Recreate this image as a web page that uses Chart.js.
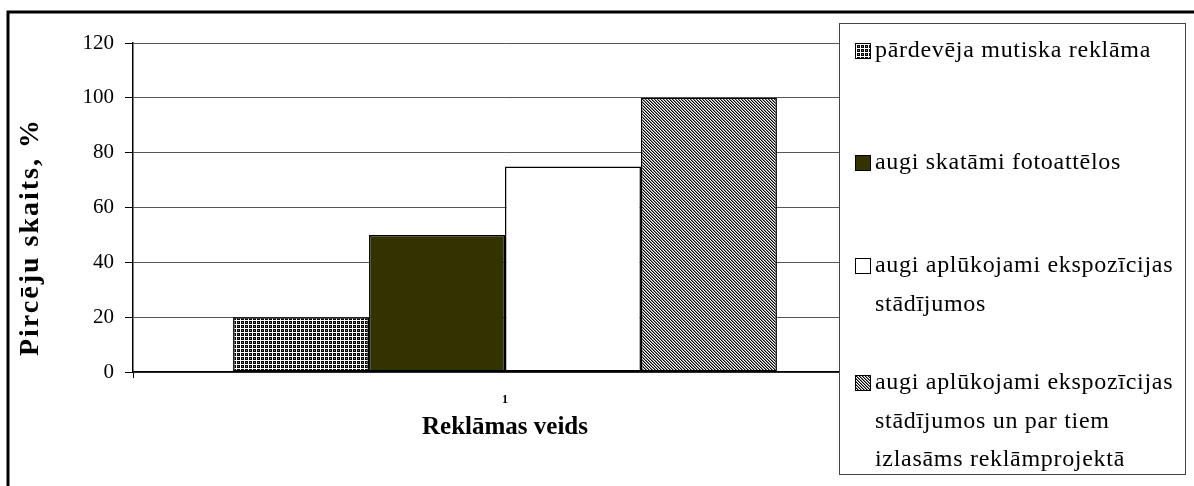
<!doctype html>
<html lang="lv">
<head>
<meta charset="utf-8">
<title>Reklāmas veids</title>
<script src="https://cdn.jsdelivr.net/npm/chart.js"></script>
<style>
  html, body { margin: 0; padding: 0; background: #fff; }
  #grafiks { display: block; }
</style>
</head>
<body>
<canvas id="grafiks" width="1194" height="486"></canvas>
<script>
// dati
var kategorijas = ['1'];
var nosaukumi = [
    ['pārdevēja mutiska reklāma'],
    ['augi skatāmi fotoattēlos'],
    ['augi aplūkojami ekspozīcijas', 'stādījumos'],
    ['augi aplūkojami ekspozīcijas', 'stādījumos un par tiem', 'izlasāms reklāmprojektā']
];
var vertibas = [20, 50, 75, 100];
var yTicks = [0, 20, 40, 60, 80, 100, 120];
var yNosaukums = 'Pircēju skaits, %';
var xNosaukums = 'Reklāmas veids';

var fonts = '"Liberation Serif", "Times New Roman", serif';

// rakstu (pattern) izveide
function rakstsRezgis() {
    var c = document.createElement('canvas');
    c.width = 4; c.height = 4;
    var g = c.getContext('2d');
    g.fillStyle = '#000';
    g.fillRect(0, 0, 4, 4);
    g.fillStyle = '#777';
    g.fillRect(2, 2, 1, 1);
    g.fillStyle = '#fff';
    g.fillRect(0, 0, 4, 1);
    g.fillRect(0, 0, 1, 4);
    return g.createPattern(c, 'repeat');
}

function rakstsSvitras() {
    var c = document.createElement('canvas');
    c.width = 3; c.height = 3;
    var g = c.getContext('2d');
    g.fillStyle = '#fff';
    g.fillRect(0, 0, 3, 3);
    for (var y = 0; y < 3; y++) {
        for (var x = 0; x < 3; x++) {
            var k = ((x - y) % 3 + 3) % 3;
            if (k == 0) { g.fillStyle = '#000'; g.fillRect(x, y, 1, 1); }
            if (k == 1) { g.fillStyle = '#888'; g.fillRect(x, y, 1, 1); }
        }
    }
    return g.createPattern(c, 'repeat');
}

var krasas = [rakstsRezgis(), '#333300', '#ffffff', rakstsSvitras()];

// leģendas rindu pozīcijas (pirmās rindas centrs)
var legendasY = [51, 163, 266, 383];
var rindasAugstums = 38.5;

var fonsUnRamis = {
    id: 'fonsUnRamis',
    beforeDraw: function (chart) {
        var ctx = chart.ctx;
        ctx.save();
        ctx.fillStyle = '#fff';
        ctx.fillRect(0, 0, chart.width, chart.height);
        ctx.strokeStyle = '#000';
        ctx.lineWidth = 3;
        ctx.beginPath();
        ctx.moveTo(8, chart.height);
        ctx.lineTo(8, 12);
        ctx.lineTo(chart.width, 12);
        ctx.stroke();
        ctx.restore();
    },
    afterDraw: function (chart) {
        var ctx = chart.ctx;
        ctx.save();

        // y ass nosaukums
        ctx.translate(31, 237);
        ctx.rotate(-Math.PI / 2);
        ctx.font = 'bold 28px ' + fonts;
        ctx.letterSpacing = '2px';
        ctx.fillStyle = '#000';
        ctx.textAlign = 'center';
        ctx.textBaseline = 'middle';
        ctx.fillText(yNosaukums, 0, 0);
        ctx.setTransform(1, 0, 0, 1, 0, 0);

        // leģenda
        ctx.fillStyle = '#fff';
        ctx.fillRect(839.5, 23.5, 346, 451);
        ctx.strokeStyle = '#444';
        ctx.lineWidth = 1;
        ctx.strokeRect(839.5, 23.5, 346, 451);

        ctx.font = '24px ' + fonts;
        ctx.letterSpacing = '0.7px';
        ctx.textAlign = 'left';
        ctx.textBaseline = 'middle';
        chart.data.datasets.forEach(function (ds, i) {
            var y0 = legendasY[i];
            ctx.fillStyle = ds.backgroundColor;
            ctx.fillRect(856, y0 - 7, 14, 14);
            ctx.strokeStyle = '#000';
            ctx.lineWidth = 1;
            ctx.strokeRect(855.5, y0 - 7.5, 15, 15);
            ctx.fillStyle = '#000';
            nosaukumi[i].forEach(function (rinda, j) {
                ctx.fillText(rinda, 875, y0 + j * rindasAugstums);
            });
        });
        ctx.restore();
    }
};

var ctx = document.getElementById('grafiks');

new Chart(ctx, {
    type: 'bar',
    data: {
        labels: kategorijas,
        datasets: vertibas.map(function (v, i) {
            return {
                label: nosaukumi[i].join(' '),
                data: [v],
                backgroundColor: krasas[i],
                borderColor: '#000',
                borderWidth: 1.5,
                borderSkipped: false
            };
        })
    },
    options: {
        responsive: false,
        animation: false,
        events: [],
        layout: { padding: { top: 43, left: 0, right: 317, bottom: 0 } },
        plugins: {
            legend: { display: false },
            tooltip: { enabled: false }
        },
        datasets: {
            bar: { categoryPercentage: 0.731, barPercentage: 1 }
        },
        scales: {
            x: {
                afterFit: function (scale) { scale.height = 114; },
                grid: { drawOnChartArea: false, drawTicks: true, tickLength: 6, color: '#000', offset: true },
                border: { color: '#000', width: 1.5 },
                ticks: { color: '#000', font: { family: fonts, size: 12, weight: 'bold' }, padding: 15 },
                title: {
                    display: true,
                    text: xNosaukums,
                    color: '#000',
                    font: { family: fonts, size: 25, weight: 'bold' },
                    padding: { top: 0, bottom: 43 }
                }
            },
            y: {
                min: yTicks[0],
                max: yTicks[yTicks.length - 1],
                afterFit: function (scale) { scale.width = 133; },
                afterBuildTicks: function (scale) {
                    scale.ticks = yTicks.map(function (t) { return { value: t }; });
                },
                grid: { color: '#555', lineWidth: 1, tickLength: 8, tickColor: '#000' },
                border: { color: '#000', width: 1.5 },
                ticks: { color: '#000', font: { family: fonts, size: 21 }, padding: 11 }
            }
        }
    },
    plugins: [fonsUnRamis]
});
</script>
</body>
</html>
